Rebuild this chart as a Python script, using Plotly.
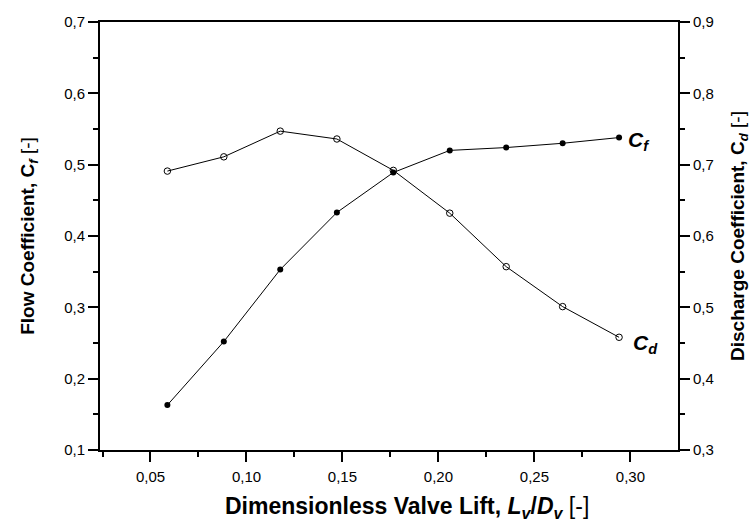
import plotly.graph_objects as go

lift = [0.0588, 0.0882, 0.1176, 0.1471, 0.1765, 0.2059, 0.2353, 0.2647, 0.2941]
cf = [0.163, 0.252, 0.353, 0.433, 0.489, 0.520, 0.524, 0.530, 0.538]
cd = [0.691, 0.711, 0.747, 0.736, 0.692, 0.632, 0.557, 0.501, 0.458]

FONT = "Liberation Sans, Arial, sans-serif"

fig = go.Figure()
fig.add_trace(go.Scatter(
    x=lift, y=cf, mode="lines+markers", name="Cf",
    line=dict(color="black", width=1),
    marker=dict(symbol="circle", size=6, color="black"),
    yaxis="y"))
fig.add_trace(go.Scatter(
    x=lift, y=cd, mode="lines+markers", name="Cd",
    line=dict(color="black", width=1),
    marker=dict(symbol="circle-open", size=6.5, color="black", line=dict(width=1)),
    yaxis="y2"))

fig.add_annotation(x=lift[-1], y=cf[-1], xref="x", yref="y", text="<b><i>C<sub>f</sub></i></b>",
                   showarrow=False, xanchor="left", xshift=7, yshift=-3,
                   font=dict(family=FONT, size=21, color="black"))
fig.add_annotation(x=lift[-1], y=cd[-1], xref="x", yref="y2", text="<b><i>C<sub>d</sub></i></b>",
                   showarrow=False, xanchor="left", xshift=12, yshift=-7,
                   font=dict(family=FONT, size=21, color="black"))
# x-axis title (placed slightly right of centre, as in the reference)
fig.add_annotation(x=0.531, y=-0.135, xref="paper", yref="paper",
                   text="<b>Dimensionless Valve Lift, <i>L<sub>v</sub></i>/<i>D<sub>v</sub></i></b> [-]",
                   showarrow=False, xanchor="center", yanchor="middle",
                   font=dict(family=FONT, size=23, color="black"))

axis_common = dict(showline=True, linecolor="black", linewidth=2, ticks="outside",
                   ticklen=10, tickwidth=1.5, tickcolor="black", showgrid=False, zeroline=False,
                   automargin=False,
                   tickfont=dict(family=FONT, size=15, color="black"))
minor_common = dict(ticks="outside", ticklen=5, tick0=0, tickcolor="black", tickwidth=1.5)

fig.update_layout(
    width=756, height=523,
    margin=dict(l=100, r=78, t=22, b=73),
    paper_bgcolor="white", plot_bgcolor="white",
    separators=", ",
    showlegend=False,
    xaxis=dict(range=[0.0237, 0.3248], dtick=0.05, tick0=0, tickformat=".2f",
               mirror=True, ticklabelstandoff=2,
               minor=dict(dtick=0.025, **minor_common),
               **axis_common),
    yaxis=dict(range=[0.1, 0.7], dtick=0.1, tick0=0, tickformat=".1f",
               minor=dict(dtick=0.05, **minor_common),
               title=dict(text="<b>Flow Coefficient, C<sub><i>f</i></sub></b> [-]",
                          font=dict(family=FONT, size=19, color="black"), standoff=24),
               **axis_common),
    yaxis2=dict(range=[0.3, 0.9], dtick=0.1, tick0=0, tickformat=".1f",
                overlaying="y", side="right",
                minor=dict(dtick=0.05, **minor_common),
                title=dict(text="<b>Discharge Coefficient, C<sub><i>d</i></sub></b> [-]",
                           font=dict(family=FONT, size=19, color="black"), standoff=18),
                **axis_common),
)

fig.write_html("out.html")
